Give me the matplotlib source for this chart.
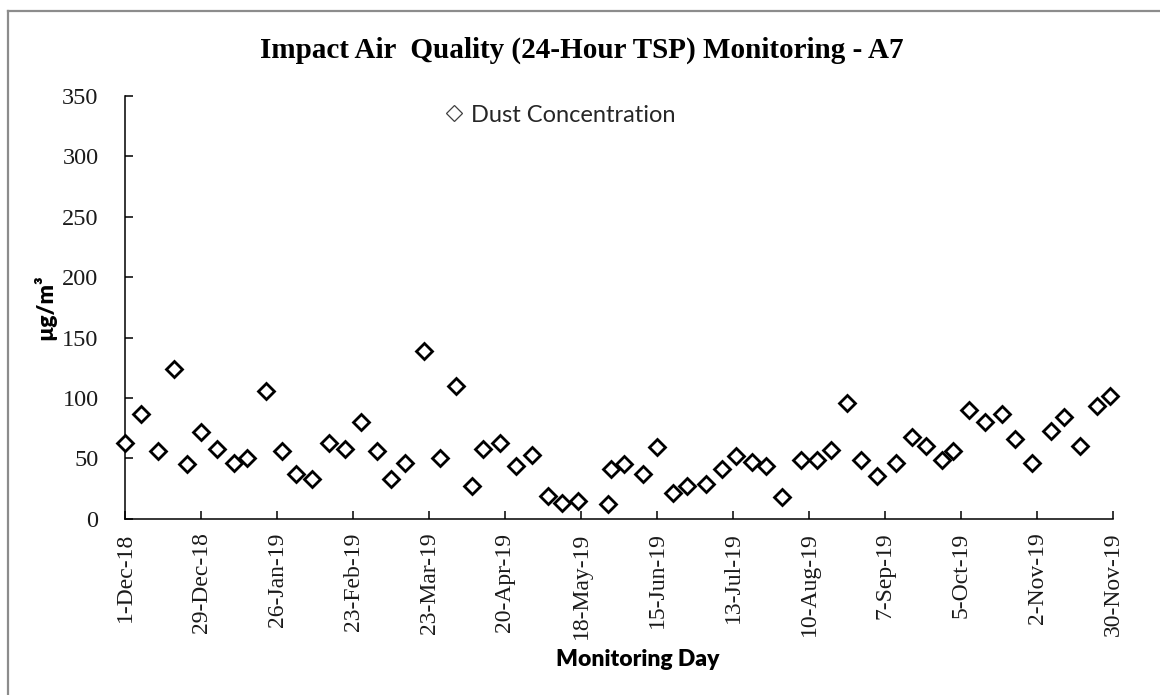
import matplotlib
matplotlib.use("Agg")
import matplotlib.pyplot as plt
from matplotlib.lines import Line2D
import pandas as pd

# ---- data ----
sample_dates = [
    "2018-12-01", "2018-12-07", "2018-12-13", "2018-12-19", "2018-12-24", "2018-12-29",
    "2019-01-04", "2019-01-10", "2019-01-15", "2019-01-22", "2019-01-28", "2019-02-02",
    "2019-02-08", "2019-02-14", "2019-02-20", "2019-02-26", "2019-03-04", "2019-03-09",
    "2019-03-14", "2019-03-21", "2019-03-27", "2019-04-02", "2019-04-08", "2019-04-12",
    "2019-04-18", "2019-04-24", "2019-04-30", "2019-05-06", "2019-05-11", "2019-05-17",
    "2019-05-28", "2019-05-29", "2019-06-03", "2019-06-10", "2019-06-15", "2019-06-21",
    "2019-06-26", "2019-07-03", "2019-07-09", "2019-07-14", "2019-07-20", "2019-07-25",
    "2019-07-31", "2019-08-07", "2019-08-13", "2019-08-18", "2019-08-24", "2019-08-29",
    "2019-09-04", "2019-09-11", "2019-09-17", "2019-09-22", "2019-09-28", "2019-10-02",
    "2019-10-08", "2019-10-14", "2019-10-20", "2019-10-25", "2019-10-31", "2019-11-07",
    "2019-11-12", "2019-11-18", "2019-11-24", "2019-11-29",
]
dust_concentration = [
    63, 87, 56, 124, 45, 72,
    58, 46, 50, 106, 56, 37,
    33, 63, 58, 80, 56, 33,
    46, 139, 50, 110, 27, 58,
    63, 44, 53, 19, 13, 15,
    12, 41, 45, 37, 59, 21,
    27, 29, 41, 52, 47, 44,
    18, 49, 49, 57, 96, 49,
    35, 46, 68, 60, 49, 56,
    90, 80, 87, 66, 46, 73,
    84, 60, 93, 102,
]
tick_dates = [
    "2018-12-01", "2018-12-29", "2019-01-26", "2019-02-23", "2019-03-23", "2019-04-20",
    "2019-05-18", "2019-06-15", "2019-07-13", "2019-08-10", "2019-09-07", "2019-10-05",
    "2019-11-02", "2019-11-30",
]
tick_labels = [
    "1-Dec-18", "29-Dec-18", "26-Jan-19", "23-Feb-19", "23-Mar-19", "20-Apr-19",
    "18-May-19", "15-Jun-19", "13-Jul-19", "10-Aug-19", "7-Sep-19", "5-Oct-19",
    "2-Nov-19", "30-Nov-19",
]
y_ticks = [0, 50, 100, 150, 200, 250, 300, 350]

title = "Impact Air  Quality (24-Hour TSP) Monitoring - A7"
series_name = "Dust Concentration"
x_label = "Monitoring Day"
y_label = "µg/m³"

# ---- figure ----
W, H = 1160, 695
fig = plt.figure(figsize=(W / 100, H / 100), dpi=100)
fig.patch.set_facecolor("white")

def fx(px):
    return px / W

def fy(py):
    return 1 - py / H

ax = fig.add_axes([fx(125), fy(518.7), fx(1113) - fx(125), fy(96) - fy(518.7)])

x = pd.to_datetime(sample_dates)
ax.plot(x, dust_concentration, linestyle="none", marker="D", markersize=8.6,
        markerfacecolor="white", markeredgecolor="black", markeredgewidth=2.0,
        clip_on=False, zorder=3)

tx = pd.to_datetime(tick_dates)
ax.set_xlim(tx[0], tx[-1])
ax.set_xticks(tx)
ax.set_xticklabels(tick_labels, rotation=90, fontfamily="Liberation Serif",
                   fontsize=17, va="top", ha="center")
ax.set_ylim(0, 350)
ax.set_yticks(y_ticks)
ax.set_yticklabels([str(v) for v in y_ticks], fontfamily="Liberation Serif", fontsize=17.5)

for s in ["top", "right"]:
    ax.spines[s].set_visible(False)
for s in ["left", "bottom"]:
    ax.spines[s].set_linewidth(1.1)
    ax.spines[s].set_color("black")
ax.tick_params(axis="both", direction="in", length=6, width=1.1, colors="black")
ax.tick_params(axis="y", pad=19)
ax.tick_params(axis="x", pad=10)
for lbl in ax.get_xticklabels() + ax.get_yticklabels():
    lbl.set_color("#1a1a1a")

# title and axis labels
fig.text(fx(582), fy(58), title, ha="center", va="baseline",
         fontfamily="Liberation Serif", fontweight="bold", fontsize=21)
fig.text(fx(638), fy(660), x_label, ha="center", va="center",
         fontfamily="Lato", fontweight="heavy", fontsize=16.5)
fig.text(fx(45), fy(307), y_label, ha="center", va="center", rotation=90,
         fontfamily=["Lato", "DejaVu Sans"], fontweight="heavy", fontsize=16.5)

# legend
proxy = Line2D([], [], linestyle="none", marker="D", markersize=8.5,
               markerfacecolor="white", markeredgecolor="#404040", markeredgewidth=0.9)
leg = ax.legend(handles=[proxy], labels=[series_name], loc="center left",
                bbox_to_anchor=(fx(443), fy(115)), bbox_transform=fig.transFigure,
                frameon=False, handlelength=0.9, handletextpad=0.3,
                borderpad=0, borderaxespad=0,
                prop={"family": "Lato", "size": 17})
for t in leg.get_texts():
    t.set_color("#262626")

# outer chart border (left and top visible)
fig.add_artist(Line2D([fx(8), fx(8)], [fy(11), 0], color="#8c8c8c", linewidth=1.6,
                      transform=fig.transFigure))
fig.add_artist(Line2D([fx(8), 1], [fy(11), fy(11)], color="#8c8c8c", linewidth=1.6,
                      transform=fig.transFigure))

fig.savefig("out.png", dpi=100)
